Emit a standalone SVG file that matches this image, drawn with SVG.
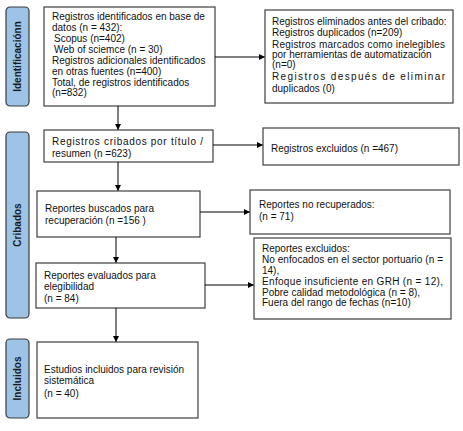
<svg xmlns="http://www.w3.org/2000/svg" width="463" height="431" viewBox="0 0 463 431">
<defs>
<marker id="ah" markerWidth="6" markerHeight="6" refX="5.5" refY="3" orient="auto" markerUnits="userSpaceOnUse">
<path d="M0,0 L6,3 L0,6 Z" fill="#000"/>
</marker>
<style>
.bar{fill:#9DC3E6;stroke:#3A3A3A;stroke-width:1.2}
.box{fill:#fff;stroke:#3F3F3F;stroke-width:1.2}
.t{font-family:"Liberation Sans",Arial,sans-serif;font-size:10px;fill:#111}
.bt{font-family:"Liberation Sans",Arial,sans-serif;font-size:10px;font-weight:bold;fill:#1a1a1a;text-anchor:middle}
.c{stroke:#000;stroke-width:1;fill:none;marker-end:url(#ah)}
</style>
</defs>
<rect width="463" height="431" fill="#fff"/>
<g id="phase-identificacion">
<rect class="bar" x="6" y="7" width="23" height="99" rx="4"/>
<text class="bt" transform="translate(21,56.5) rotate(-90)">Identificaciónn</text>
</g>
<g id="phase-cribados">
<rect class="bar" x="6" y="132" width="23" height="186" rx="4"/>
<text class="bt" transform="translate(21,225) rotate(-90)">Cribados</text>
</g>
<g id="phase-incluidos">
<rect class="bar" x="6" y="339" width="23" height="79" rx="4"/>
<text class="bt" transform="translate(21,378.5) rotate(-90)">Incluidos</text>
</g>
<g id="identified">
<rect class="box" x="44" y="7" width="171" height="99"/>
<text class="t" x="52" y="20">Registros identificados en base de</text>
<text class="t" x="52" y="31">datos (n = 432):</text>
<text class="t" x="54" y="42"> Scopus (n=402)</text>
<text class="t" x="54" y="53"> Web of sciemce (n = 30)</text>
<text class="t" x="52" y="64">Registros adicionales identificados</text>
<text class="t" x="52" y="74.5">en otras fuentes (n=400)</text>
<text class="t" x="52" y="85.5">Total, de registros identificados</text>
<text class="t" x="52" y="96">(n=832)</text>
</g>
<g id="removed">
<rect class="box" x="265" y="10" width="188" height="93"/>
<text class="t" x="272" y="24.5">Registros eliminados antes del cribado:</text>
<text class="t" x="272" y="36">Registros duplicados (n=209)</text>
<text class="t" x="272" y="47.5" textLength="173" lengthAdjust="spacing">Registros marcados como inelegibles</text>
<text class="t" x="272" y="57.5">por herramientas de automatización</text>
<text class="t" x="272" y="67.5">(n=0)</text>
<text class="t" x="272" y="80" textLength="173" lengthAdjust="spacing">Registros después de eliminar</text>
<text class="t" x="272" y="91.5">duplicados (0)</text>
</g>
<g id="screened">
<rect class="box" x="44" y="130" width="169" height="32"/>
<text class="t" x="52" y="144.5" textLength="151" lengthAdjust="spacing">Registros cribados por título /</text>
<text class="t" x="52" y="156.5">resumen (n =623)</text>
</g>
<g id="excluded-records">
<rect class="box" x="263" y="128" width="196" height="37"/>
<text class="t" x="271" y="151.5">Registros excluidos (n =467)</text>
</g>
<g id="sought">
<rect class="box" x="37" y="191" width="163" height="46"/>
<text class="t" x="45" y="211.5">Reportes buscados para</text>
<text class="t" x="45" y="223.5">recuperación (n =156 )</text>
</g>
<g id="not-retrieved">
<rect class="box" x="250" y="190" width="200" height="44"/>
<text class="t" x="259" y="208">Reportes no recuperados:</text>
<text class="t" x="259" y="220">(n = 71)</text>
</g>
<g id="assessed">
<rect class="box" x="36" y="263" width="169" height="45"/>
<text class="t" x="44" y="278.5">Reportes evaluados para</text>
<text class="t" x="44" y="289.5">elegibilidad</text>
<text class="t" x="44" y="301.5">(n = 84)</text>
</g>
<g id="excluded-reports">
<rect class="box" x="254" y="238" width="197" height="81"/>
<text class="t" x="262" y="252">Reportes excluidos:</text>
<text class="t" x="262" y="263" textLength="181" lengthAdjust="spacing"> No enfocados en el sector portuario (n =</text>
<text class="t" x="262" y="274">14),</text>
<text class="t" x="262" y="285" textLength="181" lengthAdjust="spacing">Enfoque insuficiente en GRH (n = 12),</text>
<text class="t" x="262" y="295.5">Pobre calidad metodológica (n = 8),</text>
<text class="t" x="262" y="306">Fuera del rango de fechas (n=10)</text>
</g>
<g id="included">
<rect class="box" x="37" y="342" width="161" height="76"/>
<text class="t" x="44" y="372.5">Estudios incluidos para revisión</text>
<text class="t" x="44" y="383.5">sistemática</text>
<text class="t" x="44" y="396.5">(n = 40)</text>
</g>
<g id="connectors">
<line class="c" x1="215" y1="57" x2="264.5" y2="57"/>
<line class="c" x1="118" y1="106" x2="118" y2="129.5"/>
<line class="c" x1="213" y1="145" x2="262.5" y2="145"/>
<line class="c" x1="118" y1="162" x2="118" y2="190.5"/>
<line class="c" x1="200" y1="212" x2="249.5" y2="212"/>
<line class="c" x1="116" y1="237" x2="116" y2="262.5"/>
<line class="c" x1="205" y1="285" x2="253.5" y2="285"/>
<line class="c" x1="116" y1="308" x2="116" y2="341.5"/>
</g>
</svg>
